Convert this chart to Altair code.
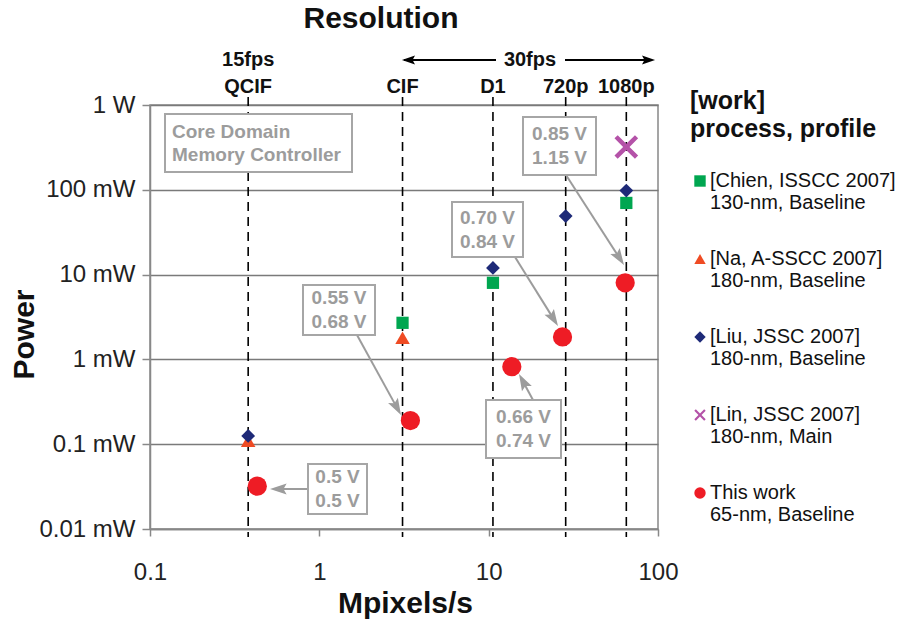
import math
import altair as alt
import pandas as pd

# ---------------- data (Mpixels/s, power in mW) ----------------
series_names = [
    "[Chien, ISSCC 2007]|130-nm, Baseline",
    "[Na, A-SSCC 2007]|180-nm, Baseline",
    "[Liu, JSSC 2007]|180-nm, Baseline",
    "[Lin, JSSC 2007]|180-nm, Main",
    "This work|65-nm, Baseline",
]
chien_x = [3.1, 10.6, 65]
chien_y = [2.7, 8.0, 70]
na_x = [0.38, 3.1]
na_y = [0.11, 1.8]
liu_x = [0.38, 10.6, 28.5, 65]
liu_y = [0.125, 12, 49, 98]
lin_x = [65]
lin_y = [320]
this_x = [0.43, 3.45, 13.7, 27.3, 64]
this_y = [0.032, 0.19, 0.82, 1.84, 8.0]

res_names = ["QCIF", "CIF", "D1", "720p", "1080p"]
res_x = [0.38, 3.1, 10.6, 28.5, 65]

volt_text = ["0.5 V|0.5 V", "0.55 V|0.68 V", "0.66 V|0.74 V", "0.70 V|0.84 V", "0.85 V|1.15 V"]

# ---------------- styles / layout ----------------
W, H = 508, 424
X0, Y0 = 150, 105
FONT = "Liberation Sans"
GRAY = "#9c9c9c"


def xd(px):
    return 10 ** (-1 + 3 * (px - X0) / W)


def yd(py):
    return 10 ** (3 - 5 * (py - Y0) / H)


colors = ["#00a650", "#ef4b23", "#1e2a78", "#b452a8", "#ee1c25"]
a = 0.27
xpath = (f"M-1,{-1+a}L{-1+a},-1L0,{-a}L{1-a},-1L1,{-1+a}L{a},0L1,{1-a}L{1-a},1L0,{a}"
         f"L{-1+a},1L-1,{1-a}L{-a},0Z")
shapes = ["square", "triangle-up", "diamond", xpath, "circle"]
marker_size = dict(zip(series_names, [150, 210, 190, 560, 370]))

rows = []
for name, xs, ys in zip(series_names, [chien_x, na_x, liu_x, lin_x, this_x],
                        [chien_y, na_y, liu_y, lin_y, this_y]):
    for x, y in zip(xs, ys):
        rows.append({"series": name, "mpix": x, "mw": y})
pts = pd.DataFrame(rows)
pts["sz"] = pts["series"].map(marker_size)

xscale = alt.Scale(type="log", domain=[0.1, 100], nice=False)
yscale = alt.Scale(type="log", domain=[0.01, 1000], nice=False)

AX = alt.Axis(values=[0.1, 1, 10, 100], format="~g", title="Mpixels/s",
              grid=False, tickColor="#888", domainColor="#888", tickSize=7,
              domainWidth=1.5, tickWidth=1.5,
              labelFontSize=24, labelColor="#222", labelBaseline="middle",
              labelPadding=36, labelFlush=False, labelFont=FONT,
              titleFontSize=30, titleFontWeight="bold", titleColor="#111", titleFont=FONT,
              titleX=255, titleY=74, titleBaseline="middle")
AY = alt.Axis(values=[0.01, 0.1, 1, 10, 100, 1000],
              labelExpr="datum.value >= 1000 ? '1 W' : datum.value + ' mW'",
              grid=True, gridColor="#7a7a7a", gridWidth=1.5, tickColor="#888",
              tickSize=8, tickWidth=1.5, domainColor="#888", domainWidth=1.5,
              labelFontSize=24, labelColor="#222", labelPadding=7, labelFont=FONT,
              labelFlush=False,
              title="Power", titleFontSize=30, titleFontWeight="bold", titleFont=FONT,
              titleColor="#111", titleAngle=270, titleX=-126, titleY=229,
              titleBaseline="middle", titleAlign="center")

X = lambda f="mpix": alt.X(f"{f}:Q", scale=xscale, axis=AX)
Y = lambda f="mw": alt.Y(f"{f}:Q", scale=yscale, axis=AY)

# vertical dashed resolution lines
res_df = pd.DataFrame({"mpix": res_x, "name": res_names})
rules = alt.Chart(res_df).mark_rule(color="black", strokeDash=[9, 6], strokeWidth=1.6).encode(
    x=X(), y=alt.value(-8), y2=alt.value(H + 8))

res_labels = alt.Chart(res_df).mark_text(fontSize=20, fontWeight="bold", font=FONT,
                                         baseline="middle", color="#111").encode(
    x=X(), y=alt.value(-18), text="name:N")

fps_df = pd.DataFrame({"mpix": [res_x[0], xd(530)], "t": ["15fps", "30fps"]})
fps_labels = alt.Chart(fps_df).mark_text(fontSize=20, fontWeight="bold", font=FONT,
                                         baseline="middle", color="#111").encode(
    x=X(), y=alt.value(-45), text="t:N")

# 30fps arrows
fa_df = pd.DataFrame({"a": [xd(404), xd(565)], "b": [xd(496), xd(650)]})
fps_lines = alt.Chart(fa_df).mark_rule(color="black", strokeWidth=2.2).encode(
    x=X("a"), x2="b:Q", y=alt.value(-45))
head_path = "M0,-1L0.62,0.85L0,0.5L-0.62,0.85Z"
fh_df = pd.DataFrame({"mpix": [xd(409), xd(648)], "ang": [270, 90]})
fps_heads = alt.Chart(fh_df).mark_point(shape=head_path, filled=True, size=200, color="black",
                                        opacity=1, strokeWidth=0).encode(
    x=X(), y=alt.value(-45), angle=alt.Angle("ang:Q", scale=None))

title_df = pd.DataFrame({"t": ["Resolution"]})
title = alt.Chart(title_df).mark_text(fontSize=30, fontWeight="bold", font=FONT,
                                      baseline="middle", color="#111").encode(
    x=alt.value(231), y=alt.value(-86), text="t:N")

# annotation boxes (pixel layout converted to data units)
boxes_px = [(308, 367, 464, 514), (303, 375, 285, 335), (486, 561, 400, 458),
            (452, 523, 202, 257), (523, 596, 117, 175)]
arrows_px = [((308, 489), (270, 489)), ((357, 335), (401, 415)), ((533, 400), (519, 374)),
             ((515, 257), (558, 326)), ((566, 175), (624, 265))]
core_box = (165, 352, 114, 172)

box_rows = []
for (p, q, r, s) in boxes_px + [core_box]:
    box_rows.append({"x0": xd(p), "x1": xd(q), "y0": yd(r), "y1": yd(s)})
box_df = pd.DataFrame(box_rows)
boxes = alt.Chart(box_df).mark_rect(fill="white", stroke="#a6a6a6", strokeWidth=2).encode(
    x=X("x0"), x2="x1:Q", y=Y("y0"), y2="y1:Q")

vt_rows = []
for t, (p, q, r, s) in zip(volt_text, boxes_px):
    vt_rows.append({"mpix": xd((p + q) / 2), "mw": yd((r + s) / 2), "t": t})
vt_df = pd.DataFrame(vt_rows)
volt_labels = alt.Chart(vt_df).mark_text(fontSize=19, fontWeight="bold", font=FONT, color=GRAY,
                                         lineBreak="|", lineHeight=24, baseline="middle",
                                         dy=-12).encode(
    x=X(), y=Y(), text="t:N")

core_df = pd.DataFrame({"mpix": [xd(172)], "mw": [yd(143)], "t": ["Core Domain|Memory Controller"]})
core_label = alt.Chart(core_df).mark_text(fontSize=19, fontWeight="bold", font=FONT, color=GRAY,
                                          lineBreak="|", lineHeight=23, baseline="middle",
                                          align="left", dy=-11.5).encode(
    x=X(), y=Y(), text="t:N")

ar_rows, ah_rows = [], []
HL = 9
for (s, t) in arrows_px:
    dx, dy = t[0] - s[0], t[1] - s[1]
    L = math.hypot(dx, dy)
    ux, uy = dx / L, dy / L
    cx, cy = t[0] - HL * ux, t[1] - HL * uy
    ar_rows.append({"x0": xd(s[0]), "y0": yd(s[1]), "x1": xd(cx), "y1": yd(cy)})
    ang = math.degrees(math.atan2(dx, -dy)) % 360
    ah_rows.append({"mpix": xd(cx), "mw": yd(cy), "ang": ang})
arrow_lines = alt.Chart(pd.DataFrame(ar_rows)).mark_rule(color=GRAY, strokeWidth=2).encode(
    x=X("x0"), y=Y("y0"), x2="x1:Q", y2="y1:Q")
arrow_heads = alt.Chart(pd.DataFrame(ah_rows)).mark_point(
    shape=head_path, filled=True, size=324, color=GRAY, opacity=1, strokeWidth=0).encode(
    x=X(), y=Y(), angle=alt.Angle("ang:Q", scale=None))

legend = alt.Legend(
    title=["[work]", "process, profile"], orient="none", legendX=540, legendY=-16,
    labelExpr="split(datum.label, '|')", labelBaseline="middle", labelFontSize=20,
    labelLimit=400, labelColor="#111", labelOffset=0, labelFont=FONT,
    symbolSize=130, symbolStrokeWidth=0, symbolOpacity=1, rowPadding=36,
    titleFontSize=25, titleFontWeight="bold", titleLineHeight=28, titlePadding=29,
    titleColor="#111", titleFont=FONT, titleLimit=400,
)

points = alt.Chart(pts).mark_point(filled=True, opacity=1, strokeWidth=0).encode(
    x=X(), y=Y(),
    color=alt.Color("series:N", scale=alt.Scale(domain=series_names, range=colors), legend=legend),
    shape=alt.Shape("series:N", scale=alt.Scale(domain=series_names, range=shapes), legend=legend),
    size=alt.Size("sz:Q", scale=None),
)

chart = alt.layer(
    rules, res_labels, fps_labels, fps_lines, fps_heads, title,
    arrow_lines, boxes, volt_labels, core_label, arrow_heads, points,
).properties(
    width=W, height=H,
    autosize=alt.AutoSizeParams(type="none"),
    padding={"left": X0, "top": Y0, "right": 902 - X0 - W, "bottom": 629 - Y0 - H},
).configure(font=FONT).configure_view(stroke="#888", strokeWidth=1.5)

chart.save("out.html", embed_options={"renderer": "svg", "actions": False})
